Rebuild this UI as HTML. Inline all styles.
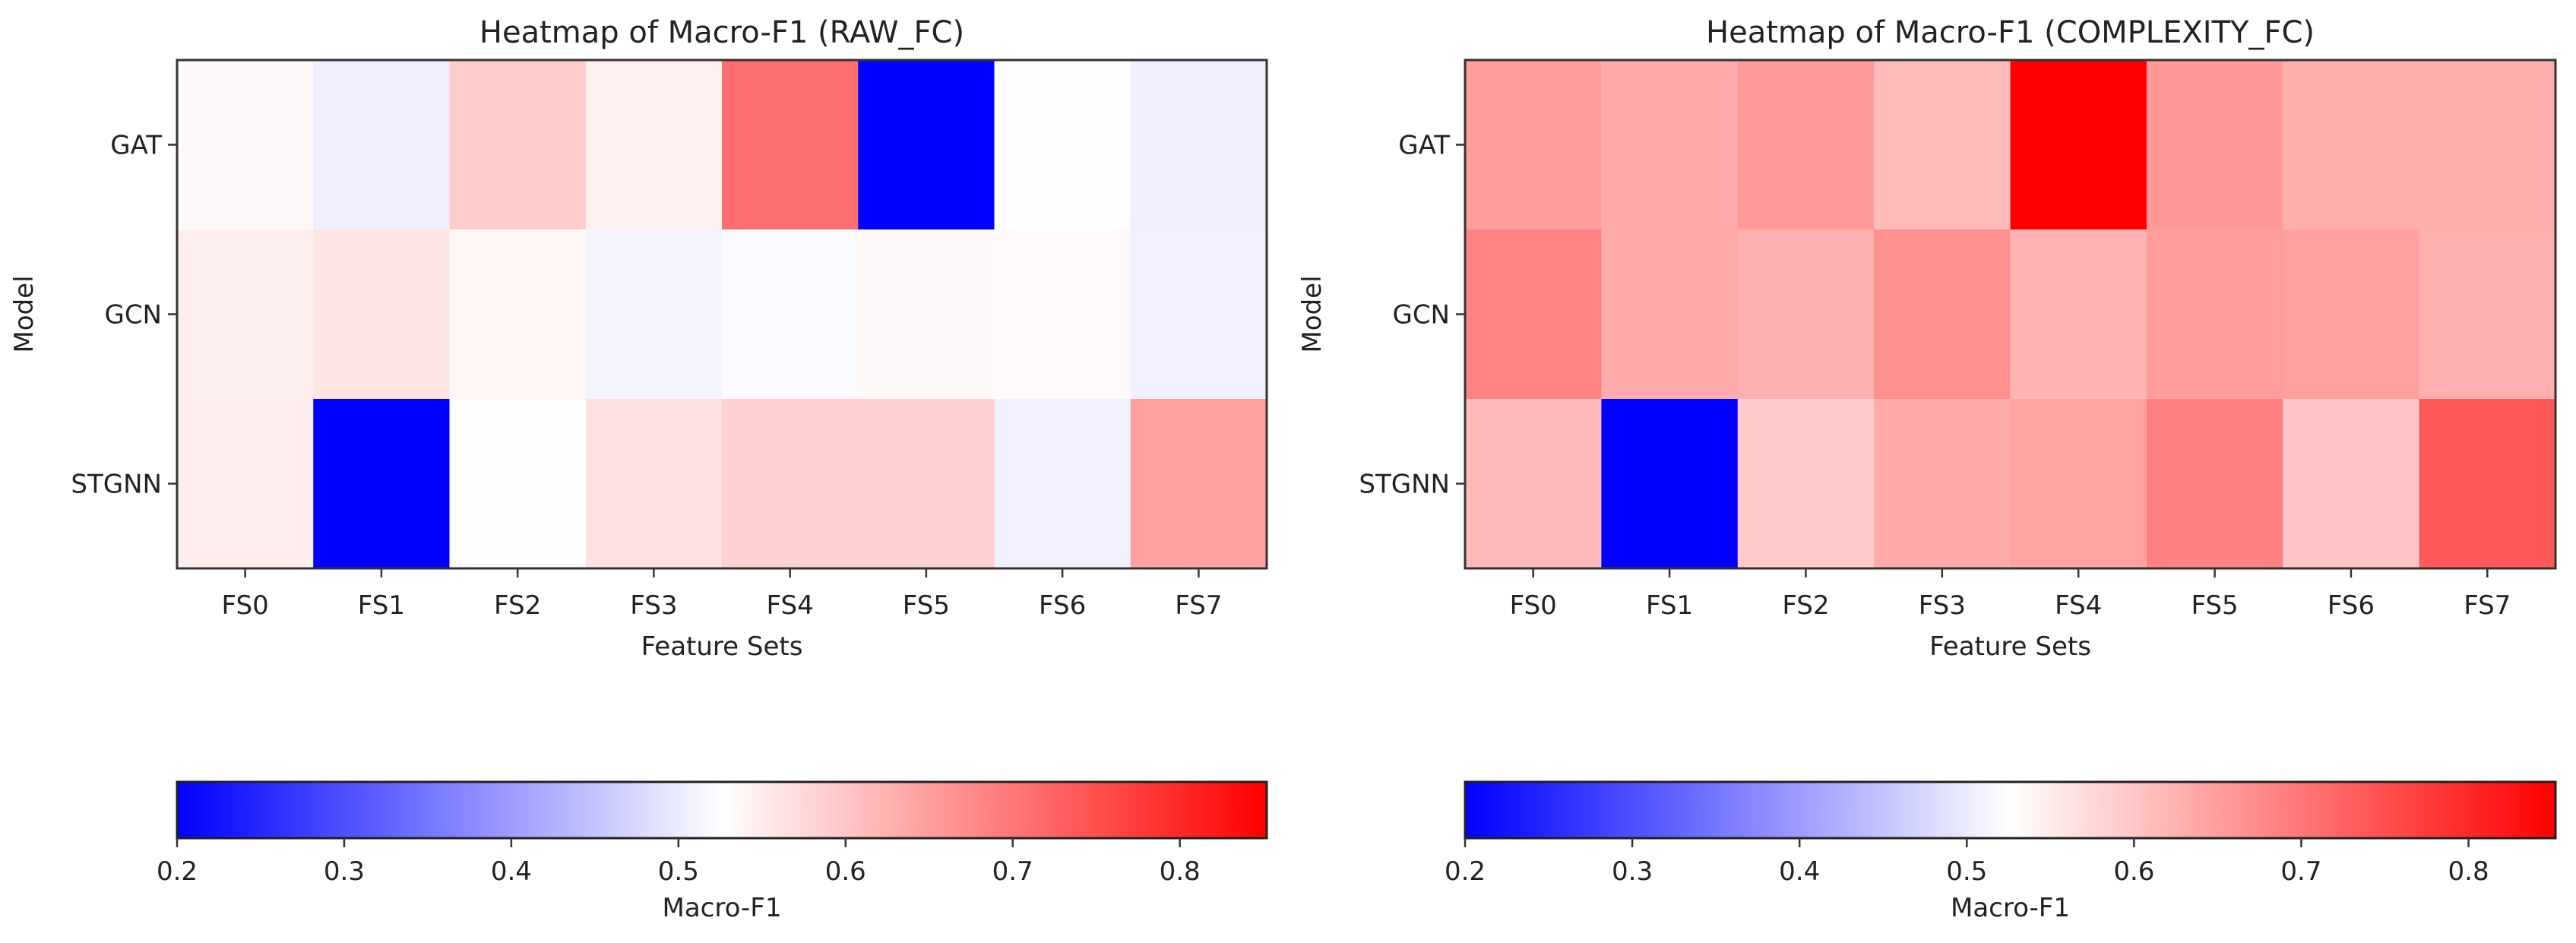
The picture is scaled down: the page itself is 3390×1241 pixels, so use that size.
<!DOCTYPE html>
<html><head><meta charset="utf-8"><style>
html,body{margin:0;padding:0;background:#fff;}
svg{display:block;font-family:"DejaVu Sans","Liberation Sans",sans-serif;}
</style></head>
<body>
<svg id="fig" width="3390" height="1241" viewBox="0 0 3390 1241" xmlns="http://www.w3.org/2000/svg"></svg>
<script>
const categories = ["FS0","FS1","FS2","FS3","FS4","FS5","FS6","FS7"];
const models = ["GAT","GCN","STGNN"];
const rawGAT = [0.535,0.505,0.591,0.545,0.712,0.200,0.528,0.505];
const rawGCN = [0.548,0.560,0.537,0.512,0.520,0.535,0.534,0.507];
const rawSTGNN = [0.550,0.200,0.525,0.564,0.585,0.585,0.507,0.648];
const cxGAT = [0.651,0.635,0.655,0.614,0.852,0.656,0.630,0.630];
const cxGCN = [0.683,0.635,0.628,0.668,0.620,0.651,0.648,0.628];
const cxSTGNN = [0.616,0.200,0.594,0.635,0.645,0.689,0.600,0.740];
const cbTicks = [0.2,0.3,0.4,0.5,0.6,0.7,0.8];
const vmin = 0.2, vmax = 0.852;

const NS = "http://www.w3.org/2000/svg";
const svg = document.getElementById("fig");
function mk(tag, attrs, parent){
  const e = document.createElementNS(NS, tag);
  for (const k in attrs) e.setAttribute(k, attrs[k]);
  (parent||svg).appendChild(e);
  return e;
}
function bwr(v){
  let t = (v - vmin) / (vmax - vmin);
  t = Math.max(0, Math.min(1, t));
  let r,g,b;
  if (t < 0.5){ const s = t*2; r = Math.round(255*s); g = r; b = 255; }
  else { const s = (t-0.5)*2; r = 255; g = Math.round(255*(1-s)); b = g; }
  return `rgb(${r},${g},${b})`;
}
const TOP = 79, BOT = 748;
function drawPanel(x0, x1, title, rows, key){
  const g = mk("g", {});
  
  
  const cw = (x1 - x0) / categories.length, rh = (BOT - TOP) / models.length;
  const xs = i => x0 + i*cw, ys = j => TOP + j*rh;
  rows.forEach((row, j) => row.forEach((v, i) => {
    const r = mk("rect", {x: xs(i), y: ys(j), width: cw+0.5, height: rh+0.5, fill: bwr(v)}, g);
    
    
  }));
  mk("rect", {x: x0, y: TOP, width: x1-x0, height: BOT-TOP, fill: "none", stroke: "#333", "stroke-width": 3}, g);
  categories.forEach((c, i) => {
    const cx = xs(i) + cw/2;
    mk("line", {x1: cx, y1: BOT, x2: cx, y2: BOT+12, stroke: "#333", "stroke-width": 2.5}, g);
    const t = mk("text", {x: cx, y: 808, "font-size": 34, "text-anchor": "middle", fill: "#222"}, g);
    t.textContent = c;
    
    
  });
  models.forEach((m, j) => {
    const cy = ys(j) + rh/2;
    mk("line", {x1: x0-12, y1: cy, x2: x0, y2: cy, stroke: "#333", "stroke-width": 2.5}, g);
    const t = mk("text", {x: x0-20, y: cy+12, "font-size": 34, "text-anchor": "end", fill: "#222"}, g);
    t.textContent = m;
    
    
  });
  const tt = mk("text", {x: (x0+x1)/2, y: 56, "font-size": 40, "text-anchor": "middle", fill: "#222"}, g);
  tt.textContent = title;
  
  
  const xl = mk("text", {x: (x0+x1)/2, y: 862, "font-size": 34, "text-anchor": "middle", fill: "#222"}, g);
  xl.textContent = "Feature Sets";
  
  
  const yx = x0 - 190, yy = (TOP+BOT)/2;
  const yl = mk("text", {x: yx, y: yy, "font-size": 34, "text-anchor": "middle", fill: "#222", transform: `rotate(-90 ${yx} ${yy})`}, g);
  yl.textContent = "Model";
  
  

  // colorbar
  const cb = mk("g", {}, svg);
  
  
  const gid = "grad-" + key;
  const defs = mk("defs", {}, cb);
  const lg = mk("linearGradient", {id: gid, x1: 0, y1: 0, x2: 1, y2: 0}, defs);
  for (let k = 0; k <= 20; k++){
    const v = vmin + (vmax - vmin) * k / 20;
    mk("stop", {offset: (k/20), "stop-color": bwr(v)}, lg);
  }
  const CT = 1029, CB = 1103;
  mk("rect", {x: x0, y: CT, width: x1-x0, height: CB-CT, fill: `url(#${gid})`, stroke: "#222", "stroke-width": 3}, cb);
  const cbx = v => x0 + (v - vmin) / (vmax - vmin) * (x1 - x0);
  cbTicks.forEach(v => {
    const x = cbx(v);
    mk("line", {x1: x, y1: CB, x2: x, y2: CB+12, stroke: "#333", "stroke-width": 2.5}, cb);
    const t = mk("text", {x: x, y: 1158, "font-size": 34, "text-anchor": "middle", fill: "#222"}, cb);
    t.textContent = v.toFixed(1);
    
    
  });
  const cl = mk("text", {x: (x0+x1)/2, y: 1206, "font-size": 34, "text-anchor": "middle", fill: "#222"}, cb);
  cl.textContent = "Macro-F1";
  
  
}
drawPanel(233, 1667, "Heatmap of Macro-F1 (RAW_FC)", [rawGAT, rawGCN, rawSTGNN], "raw-fc");
drawPanel(1928, 3363, "Heatmap of Macro-F1 (COMPLEXITY_FC)", [cxGAT, cxGCN, cxSTGNN], "complexity-fc");
</script>
</body></html>
